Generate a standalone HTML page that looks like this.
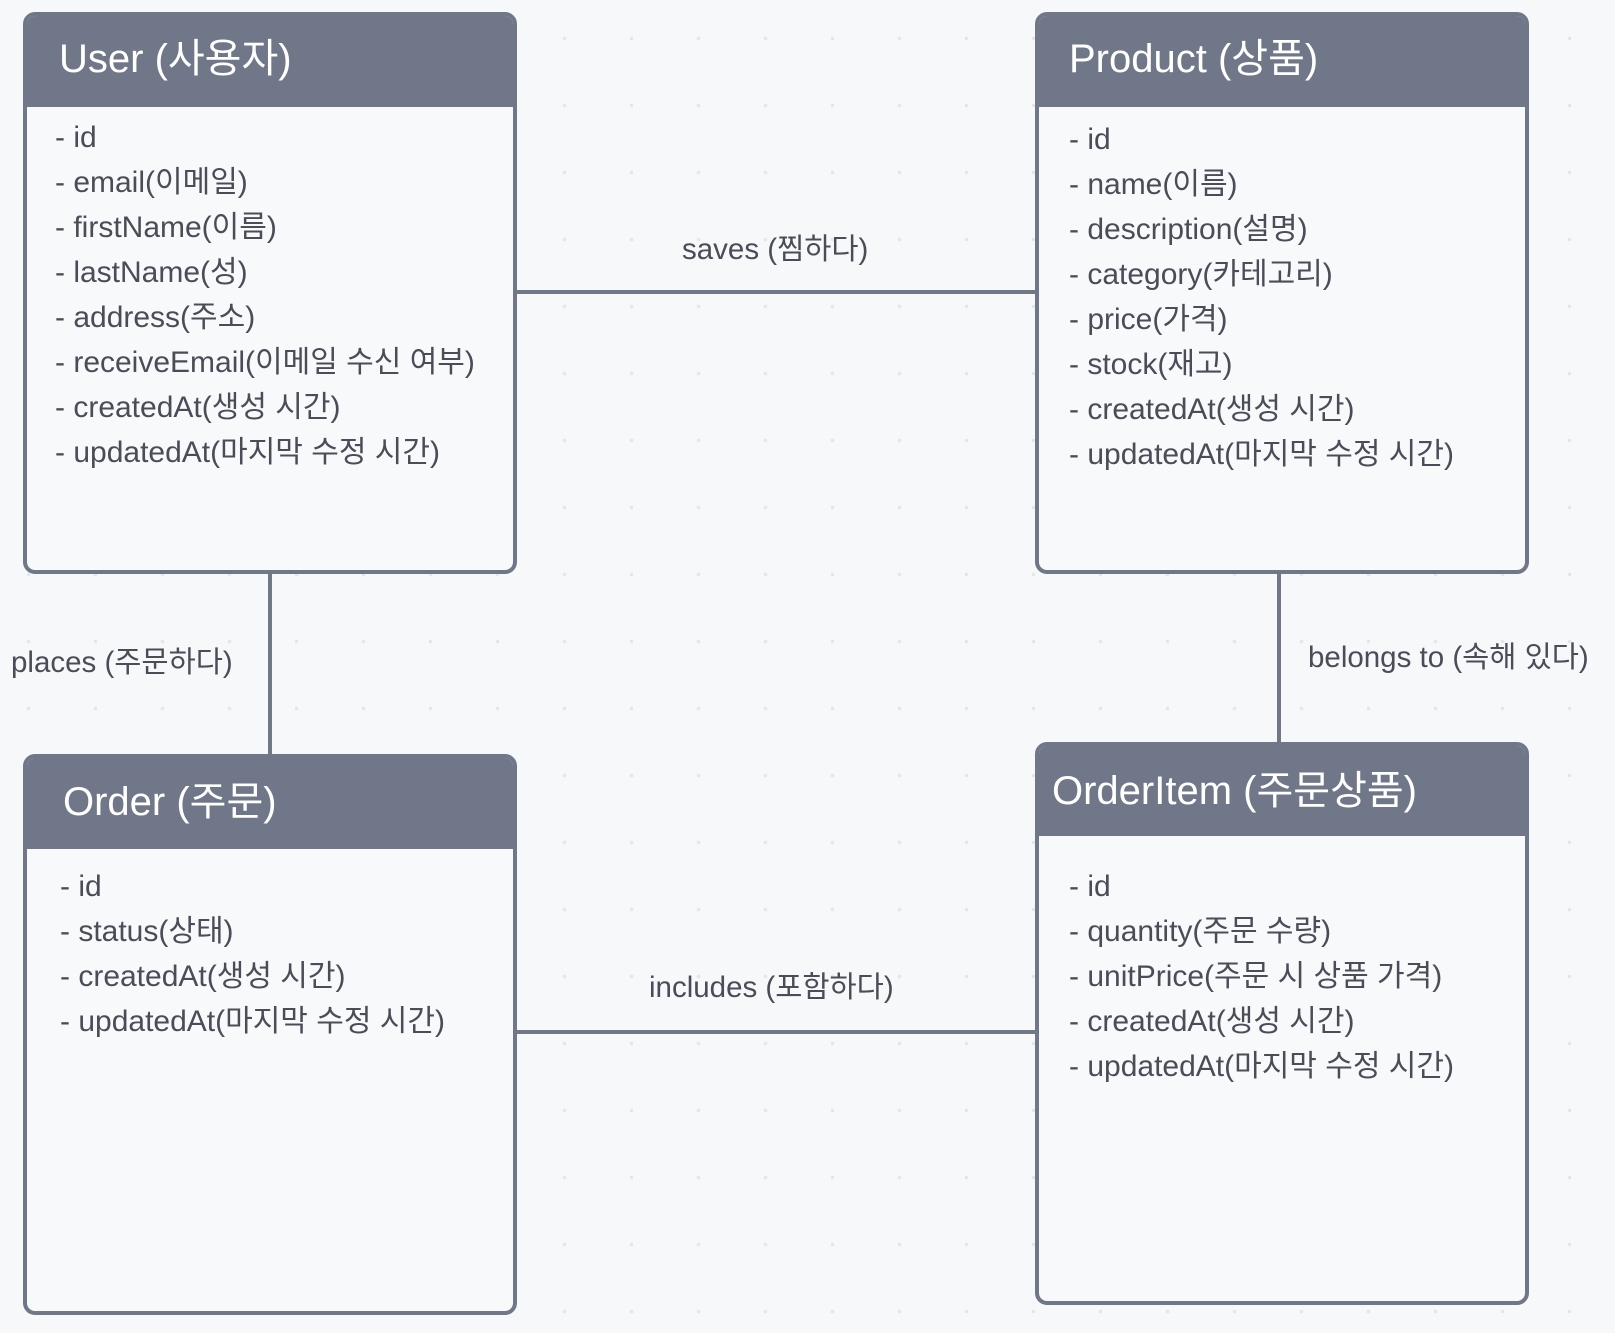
<!DOCTYPE html>
<html><head><meta charset="utf-8"><style>
body{margin:0;width:1615px;height:1333px;position:relative;overflow:hidden;
background-color:#f7f8fa;background-image:radial-gradient(circle,#e4e6ea 1.6px,transparent 2px);background-size:67px 67px;background-position:-5px 5px;
font-family:"Liberation Sans","Noto Sans CJK KR",sans-serif;color:#4a4d57}
.box{position:absolute;border:4px solid #707789;border-radius:12px;background:#f8f9fb;box-sizing:border-box;overflow:hidden}
.hd{position:absolute;left:0;right:0;top:0;background:#707789;color:#fff;font-size:40px;box-sizing:border-box}
.it{position:absolute;font-size:30px;line-height:45px;white-space:nowrap}
.ln{position:absolute;background:#707789}
.lb{position:absolute;font-size:29.5px;white-space:nowrap;line-height:34px}
</style></head><body>
<div class="ln" style="left:517px;top:290px;width:518px;height:4px"></div>
<div class="ln" style="left:268px;top:572px;width:4px;height:184px"></div>
<div class="ln" style="left:1277px;top:572px;width:4px;height:172px"></div>
<div class="ln" style="left:517px;top:1030px;width:518px;height:4px"></div>
<div class="lb" style="left:682px;top:233px">saves (찜하다)</div>
<div class="lb" style="left:11px;top:646px">places (주문하다)</div>
<div class="lb" style="left:1308px;top:641px">belongs to (속해 있다)</div>
<div class="lb" style="left:649px;top:971px">includes (포함하다)</div>

<div class="box" style="left:23px;top:12px;width:494px;height:562px">
<div class="hd" style="height:91px;padding:10px 0 0 32px">User (사용자)</div>
<div class="it" style="left:28px;top:99px">- id<br>- email(이메일)<br>- firstName(이름)<br>- lastName(성)<br>- address(주소)<br>- receiveEmail(이메일 수신 여부)<br>- createdAt(생성 시간)<br>- updatedAt(마지막 수정 시간)</div>
</div>
<div class="box" style="left:1035px;top:12px;width:494px;height:562px">
<div class="hd" style="height:91px;padding:10px 0 0 30px">Product (상품)</div>
<div class="it" style="left:30px;top:101px">- id<br>- name(이름)<br>- description(설명)<br>- category(카테고리)<br>- price(가격)<br>- stock(재고)<br>- createdAt(생성 시간)<br>- updatedAt(마지막 수정 시간)</div>
</div>
<div class="box" style="left:23px;top:754px;width:494px;height:561px">
<div class="hd" style="height:91px;padding:11px 0 0 36px">Order (주문)</div>
<div class="it" style="left:33px;top:106px">- id<br>- status(상태)<br>- createdAt(생성 시간)<br>- updatedAt(마지막 수정 시간)</div>
</div>
<div class="box" style="left:1035px;top:742px;width:494px;height:563px">
<div class="hd" style="height:90px;padding:12px 0 0 13px">OrderItem (주문상품)</div>
<div class="it" style="left:30px;top:118px">- id<br>- quantity(주문 수량)<br>- unitPrice(주문 시 상품 가격)<br>- createdAt(생성 시간)<br>- updatedAt(마지막 수정 시간)</div>
</div>
</body></html>
